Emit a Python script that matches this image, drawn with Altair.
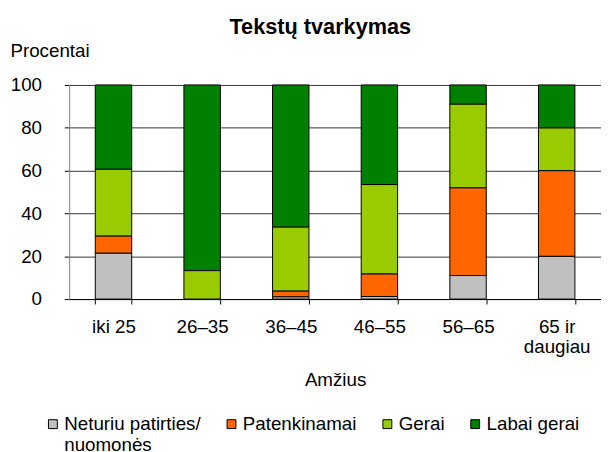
import altair as alt
import pandas as pd

categories = ["iki 25", "26–35", "36–45", "46–55", "56–65", "65 ir daugiau"]
series = ["Neturiu patirties/ nuomonės", "Patenkinamai", "Gerai", "Labai gerai"]
colors = ["#C0C0C0", "#FF6600", "#99CC00", "#008000"]

neturiu = [21.5, 0.0, 1.1, 1.2, 11.0, 20.0]
patenkinamai = [8.0, 0.0, 2.7, 10.6, 41.0, 40.0]
gerai = [31.2, 13.3, 29.9, 41.7, 39.1, 20.0]
labai_gerai = [39.3, 86.7, 66.3, 46.5, 8.9, 20.0]

rows = []
for i, c in enumerate(categories):
    for k, (s, vals) in enumerate(zip(series, [neturiu, patenkinamai, gerai, labai_gerai])):
        rows.append({"amzius": c, "vertinimas": s, "procentai": vals[i], "eil": k})
df = pd.DataFrame(rows)

FONT = "Liberation Sans"
FS = 19

chart = alt.Chart(df).mark_bar(stroke="black", strokeWidth=1).encode(
    x=alt.X(
        "amzius:N",
        sort=categories,
        scale=alt.Scale(paddingInner=0.589, paddingOuter=0.2945),
        axis=alt.Axis(
            title="Amžius",
            labelAngle=0,
            tickBand="extent",
            tickSize=5,
            tickColor="black",
            domainColor="black",
            labelPadding=14,
            labelLineHeight=20,
            labelExpr="datum.label == '65 ir daugiau' ? ['65 ir', 'daugiau'] : datum.label",
            titlePadding=15,
        ),
    ),
    y=alt.Y(
        "procentai:Q",
        stack="zero",
        scale=alt.Scale(domain=[0, 100]),
        axis=alt.Axis(
            title="Procentai",
            values=[0, 20, 40, 60, 80, 100],
            tickSize=5,
            tickColor="black",
            domainColor="#808080",
            grid=True,
            gridColor="#333333",
            gridWidth=1,
            labelPadding=23,
            titleAngle=0,
            titleAlign="left",
            titleBaseline="alphabetic",
            titleX=-60,
            titleY=-29,
        ),
    ),
    color=alt.Color(
        "vertinimas:N",
        sort=series,
        scale=alt.Scale(domain=series, range=colors),
        legend=alt.Legend(
            title=None,
            orient="none",
            direction="horizontal",
            columns=4,
            legendX=-26,
            legendY=334,
            columnPadding=21,
            symbolType="square",
            symbolSize=81,
            symbolStrokeColor="black",
            symbolStrokeWidth=1,
            labelOffset=2,
            labelLimit=300,
            labelExpr="datum.label == 'Neturiu patirties/ nuomonės' ? ['Neturiu patirties/', 'nuomonės'] : [datum.label, '']",
        ),
    ),
    order=alt.Order("eil:Q", sort="ascending"),
).properties(
    width=539,
    height=217,
    autosize="none",
    padding={"left": 62, "top": 75, "right": 0, "bottom": 152},
    title=alt.TitleParams(
        "Tekstų tvarkymas",
        fontSize=22,
        font=FONT,
        fontWeight="bold",
        anchor="middle",
        dx=-15,
        offset=3,
        color="black",
    ),
).configure_view(
    stroke=None
).configure_axis(
    labelFont=FONT,
    titleFont=FONT,
    labelFontSize=FS,
    titleFontSize=FS,
    titleFontWeight="normal",
    labelColor="black",
    titleColor="black",
).configure_legend(
    labelFont=FONT,
    labelFontSize=FS,
    labelColor="black",
    padding=0,
)

chart.save("out.html", embed_options={"renderer": "svg", "actions": False})
